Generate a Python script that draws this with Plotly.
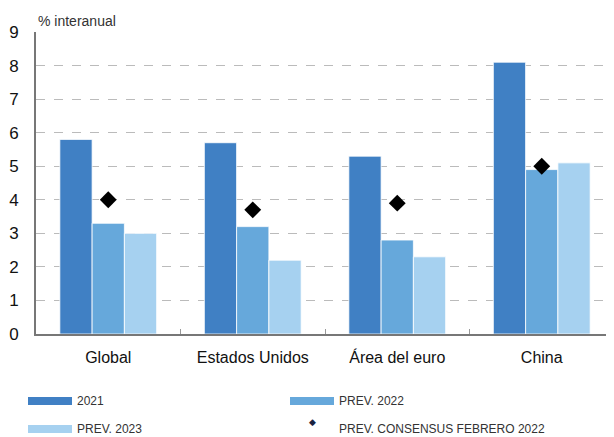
import plotly.graph_objects as go

categories = ['Global', 'Estados Unidos', 'Área del euro', 'China']
y2021 = [5.8, 5.7, 5.3, 8.1]
prev2022 = [3.3, 3.2, 2.8, 4.9]
prev2023 = [3.0, 2.2, 2.3, 5.1]
consensus = [4.0, 3.7, 3.9, 5.0]

COLORS = {
    '2021': '#4080C4',
    '2022': '#66A8DB',
    '2023': '#A6D1F0',
    'cons': '#000000',
}
FONT = 'Liberation Sans, Arial, sans-serif'

# the html page body has an 8px margin, so the figure is sized to fill the rest
W, H = 606, 429

fig = go.Figure()
for name, vals, col in [('2021', y2021, COLORS['2021']),
                        ('PREV. 2022', prev2022, COLORS['2022']),
                        ('PREV. 2023', prev2023, COLORS['2023'])]:
    fig.add_trace(go.Bar(
        x=categories, y=vals, name=name, marker_color=col,
        marker_line=dict(color='rgba(255,255,255,0.8)', width=1),
        showlegend=False,
    ))

fig.add_trace(go.Scatter(
    x=categories, y=consensus, mode='markers',
    name='PREV. CONSENSUS FEBRERO 2022',
    marker=dict(symbol='diamond', size=13, color=COLORS['cons']),
    showlegend=False,
))

fig.update_layout(
    width=W, height=H,
    plot_bgcolor='white', paper_bgcolor='white',
    font=dict(family=FONT, color='#222'),
    barmode='group', bargap=0.33, bargroupgap=0,
    margin=dict(l=28, r=0, t=24, b=103, autoexpand=False),
    xaxis=dict(
        showline=True, linecolor='#777', linewidth=2,
        ticks='inside', tickson='boundaries', ticklen=5, tickcolor='#999',
        tickfont=dict(size=16, color='#111'),
        ticklabelstandoff=8,
        showgrid=False, automargin=False,
    ),
    yaxis=dict(
        range=[0, 9], dtick=1,
        showline=True, linecolor='#777', linewidth=2,
        showgrid=True, gridcolor='#bbbbbb', griddash='dash', gridwidth=1,
        zeroline=False,
        tickfont=dict(size=17, color='#111'),
        ticklabelstandoff=12, automargin=False,
    ),
)

fig.add_annotation(
    x=0, y=1, xref='paper', yref='paper', xanchor='left', yanchor='bottom',
    text='% interanual', showarrow=False, yshift=1,
    font=dict(size=14, color='#333'),
)

# custom legend at the bottom (positions in page pixels)
legend_items = [
    ('2021', COLORS['2021'], 'bar', 28, 401),
    ('PREV. 2022', COLORS['2022'], 'bar', 290, 401),
    ('PREV. 2023', COLORS['2023'], 'bar', 28, 429),
    ('PREV. CONSENSUS FEBRERO 2022', '#1a2340', 'dot', 290, 429),
]
fx = lambda p: (p - 36) / (614 - 36)
fy = lambda p: (334 - p) / (334 - 32)
for text, col, kind, px0, py in legend_items:
    if kind == 'bar':
        fig.add_shape(type='rect', xref='paper', yref='paper',
                      x0=fx(px0), x1=fx(px0 + 44), y0=fy(py + 4), y1=fy(py - 4),
                      fillcolor=col, line_width=0)
    else:
        fig.add_annotation(x=fx(px0 + 22), y=fy(py), xref='paper', yref='paper',
                           text='◆', showarrow=False, font=dict(size=9, color=col))
    fig.add_annotation(x=fx(px0 + 47), y=fy(py), xref='paper', yref='paper',
                       xanchor='left', yanchor='middle', text=text, showarrow=False,
                       font=dict(size=12, color='#333', family=FONT))

fig.write_html('out.html')
